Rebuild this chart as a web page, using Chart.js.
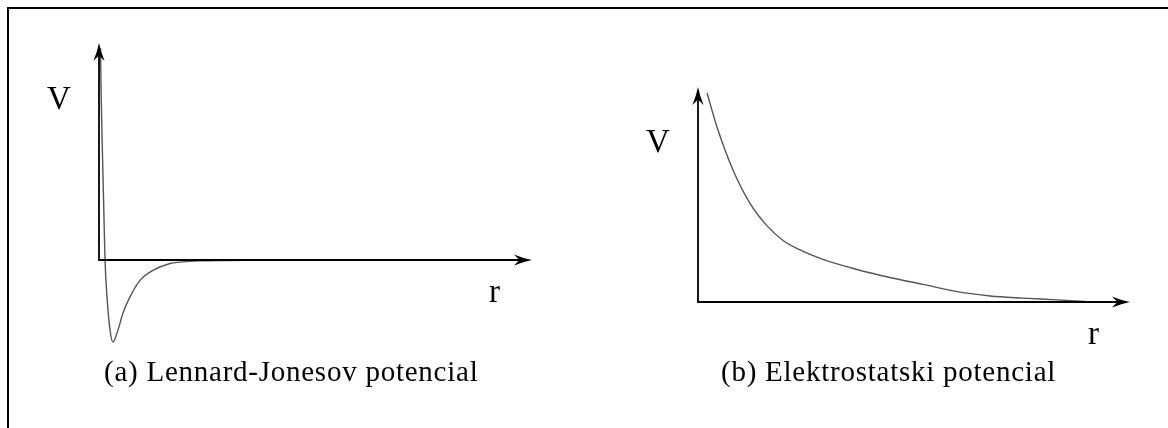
<!DOCTYPE html>
<html>
<head>
<meta charset="utf-8">
<script src="https://cdn.jsdelivr.net/npm/chart.js@4.4.1/dist/chart.umd.min.js"></script>
<style>
  html, body { margin: 0; padding: 0; background: #fff; }
  body { width: 1168px; height: 428px; position: relative; overflow: hidden; }
  .frame { position: absolute; left: 7px; top: 7px; right: -10px; bottom: -10px;
           border-top: 2px solid #000; border-left: 2px solid #000; }
  canvas { position: absolute; top: 0; }
  .lbl { position: absolute; font-family: "Liberation Serif", "DejaVu Serif", serif;
         color: #000; line-height: 1; white-space: nowrap; }
  .cap { font-size: 29px; letter-spacing: 0.75px; }
  .ax { font-size: 33px; }
</style>
</head>
<body>
<div class="frame"></div>
<canvas id="lj" width="584" height="428" style="left:0"></canvas>
<canvas id="el" width="584" height="428" style="left:584px"></canvas>

<div class="lbl ax" id="vA" style="left:47px; top:82px;">V</div>
<div class="lbl ax" id="rA" style="left:489px; top:275px;">r</div>
<div class="lbl cap" id="capA" style="left:104px; top:357px;">(a) Lennard-Jonesov potencial</div>

<div class="lbl ax" id="vB" style="left:646px; top:125px;">V</div>
<div class="lbl ax" id="rB" style="left:1088px; top:317px;">r</div>
<div class="lbl cap" id="capB" style="left:721px; top:357px;">(b) Elektrostatski potencial</div>

<script>
// Lennard-Jones potential, sketched (distance r, potential V)
const ljR = [0.035, 0.046, 0.085, 0.122, 0.139, 0.185, 0.254, 0.323, 0.439, 0.554, 0.716, 0.947, 1.247, 1.640, 1.871, 2.333, 3.0, 4.0];
const ljV = [4.88, 3.99, 2.24, 0.69, 0.0, -0.85, -1.61, -1.89, -1.61, -1.22, -0.85, -0.47, -0.24, -0.08, -0.05, -0.02, -0.01, 0.0];

// Electrostatic potential, sketched
const elR = [0.21, 0.44, 0.81, 1.20, 1.60, 1.97, 2.36, 2.89, 3.68, 4.44, 5.21, 6.00, 6.76, 7.52, 8.31, 8.96];
const elV = [4.86, 4.07, 3.07, 2.30, 1.77, 1.43, 1.21, 0.99, 0.756, 0.57, 0.41, 0.24, 0.14, 0.09, 0.05, 0.01];

// Axis ranges
const ljRange = { xMin: 0, xMax: 10, yMin: -2.5, yMax: 5 };
const elRange = { xMin: 0, xMax: 10, yMin: 0, yMax: 5 };

function toPoints(xs, ys) {
  return xs.map((x, i) => ({ x: x, y: ys[i] }));
}

function arrowHead(ctx, tx, ty, dx, dy) {
  const L = 18, W = 5.6;
  const nx = -dy, ny = dx;
  const bx = tx - L * dx, by = ty - L * dy;
  const mx = tx - 0.7 * L * dx, my = ty - 0.7 * L * dy;
  ctx.beginPath();
  ctx.moveTo(tx, ty);
  ctx.quadraticCurveTo(tx - 0.5 * L * dx + 1.8 * nx, ty - 0.5 * L * dy + 1.8 * ny, bx + W * nx, by + W * ny);
  ctx.lineTo(mx, my);
  ctx.lineTo(bx - W * nx, by - W * ny);
  ctx.quadraticCurveTo(tx - 0.5 * L * dx - 1.8 * nx, ty - 0.5 * L * dy - 1.8 * ny, tx, ty);
  ctx.closePath();
  ctx.fill();
}

// Draws the two axes through the origin with arrow tips
const arrowAxes = {
  id: 'arrowAxes',
  afterDatasetsDraw(chart) {
    const { ctx, chartArea, scales } = chart;
    const ox = scales.x.getPixelForValue(0);
    const oy = scales.y.getPixelForValue(0);
    ctx.save();
    ctx.strokeStyle = '#000';
    ctx.fillStyle = '#000';
    ctx.lineWidth = 1.8;
    ctx.beginPath();
    ctx.moveTo(ox, chartArea.top + 8);
    ctx.lineTo(ox, oy);
    ctx.lineTo(chartArea.right - 8, oy);
    ctx.stroke();
    arrowHead(ctx, ox, chartArea.top, 0, -1);
    arrowHead(ctx, chartArea.right, oy, 1, 0);
    ctx.restore();
  }
};

function makeChart(id, xs, ys, range, padding) {
  return new Chart(document.getElementById(id), {
    type: 'line',
    data: {
      datasets: [{
        data: toPoints(xs, ys),
        borderColor: '#555',
        borderWidth: 1.4,
        pointRadius: 0,
        fill: false,
        cubicInterpolationMode: 'monotone',
        clip: false
      }]
    },
    options: {
      responsive: false,
      animation: false,
      devicePixelRatio: 1,
      layout: { padding: padding },
      plugins: { legend: { display: false }, tooltip: { enabled: false }, title: { display: false } },
      scales: {
        x: { type: 'linear', min: range.xMin, max: range.xMax, display: false },
        y: { type: 'linear', min: range.yMin, max: range.yMax, display: false }
      }
    },
    plugins: [arrowAxes]
  });
}

makeChart('lj', ljR, ljV, ljRange, { left: 99, right: 52, top: 43, bottom: 59.5 });
makeChart('el', elR, elV, elRange, { left: 114, right: 38, top: 87, bottom: 126 });
</script>
</body>
</html>
